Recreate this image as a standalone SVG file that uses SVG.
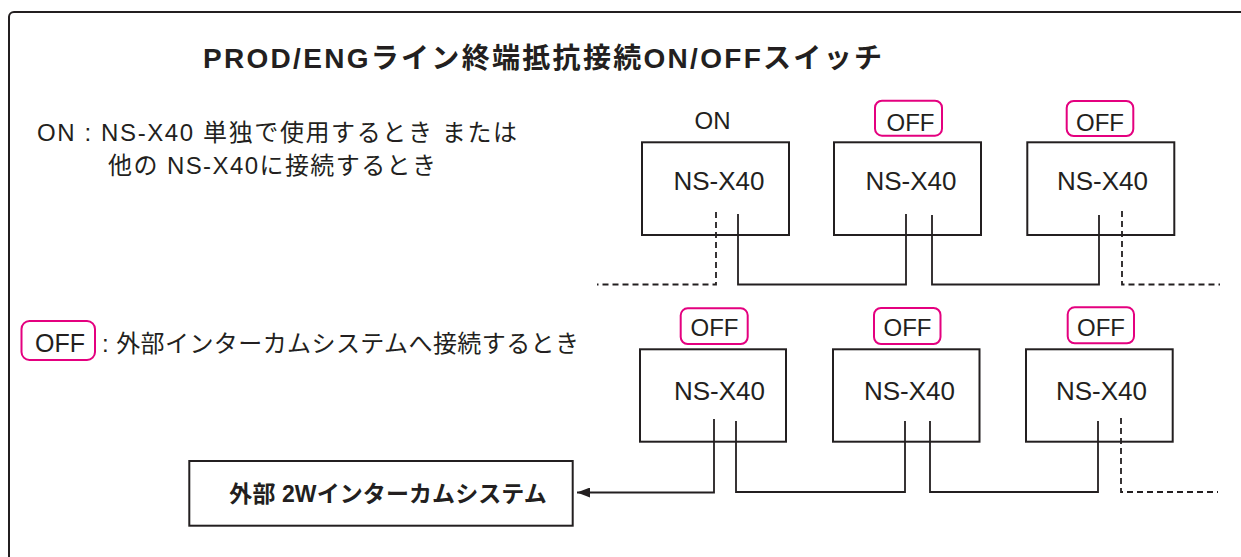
<svg xmlns="http://www.w3.org/2000/svg" width="1241" height="557" viewBox="0 0 1241 557">
  <style>
    text { font-family: "Liberation Sans", "Noto Sans CJK JP", sans-serif; fill: #231f20; }
    .title { font-size: 28px; font-weight: bold; }
    .desc { font-size: 24px; }
    .lbl { font-size: 24px; text-anchor: middle; }
    .dev { font-size: 26px; text-anchor: middle; }
    .ext { font-size: 23px; font-weight: bold; }
    .box { fill: none; stroke: #231f20; stroke-width: 2; }
    .sw { fill: none; stroke: #e4007f; stroke-width: 2; }
    .wire { fill: none; stroke: #231f20; stroke-width: 1.8; }
    .dash { fill: none; stroke: #231f20; stroke-width: 1.8; stroke-dasharray: 6 4; }
  </style>
  <defs>
    <marker id="arrow" viewBox="0 0 13 10" refX="13" refY="5" markerWidth="13" markerHeight="10" markerUnits="userSpaceOnUse" orient="auto">
      <path d="M0,0 L13,5 L0,10 z" fill="#231f20"/>
    </marker>
  </defs>
  <rect x="0" y="0" width="1241" height="557" fill="#ffffff"/>
  <rect id="frame" x="9" y="12" width="1300" height="600" rx="5" fill="none" stroke="#231f20" stroke-width="2"/>

  <g id="title">
    <text class="title" x="203" y="68" textLength="679">PROD/ENGライン終端抵抗接続ON/OFFスイッチ</text>
  </g>

  <g id="legend-on">
    <text class="desc" x="37" y="141" textLength="480">ON : NS-X40 単独で使用するとき または</text>
    <text class="desc" x="108" y="174" textLength="328">他の NS-X40に接続するとき</text>
  </g>

  <g id="legend-off">
    <rect class="sw" x="21.5" y="321" width="73.5" height="39" rx="8"/>
    <text class="lbl" x="60" y="352" style="font-size:25px">OFF</text>
    <text class="desc" x="102" y="352" textLength="477">: 外部インターカムシステムへ接続するとき</text>
  </g>

  <g id="connectors">
    <path class="dash" d="M716,212 V284.5 H597"/>
    <path class="wire" d="M738,214 V284.5 H906 V214"/>
    <path class="wire" d="M932,215 V284.5 H1099 V215"/>
    <path class="dash" d="M1122,211 V284.5 H1220"/>
    <path class="wire" d="M714,419 V492.5 H577" marker-end="url(#arrow)"/>
    <path class="wire" d="M736,421 V492 H905 V421"/>
    <path class="wire" d="M930,421 V492 H1098 V421"/>
    <path class="dash" d="M1121,418 V492 H1218"/>
  </g>

  <g id="r1-unit1">
    <text class="lbl" x="712.5" y="129">ON</text>
    <rect class="box" x="642" y="142.3" width="147" height="92.7"/>
    <text class="dev" x="719" y="190">NS-X40</text>
  </g>
  <g id="r1-unit2">
    <rect class="sw" x="875" y="100.7" width="67" height="35" rx="7"/>
    <text class="lbl" x="910.5" y="130.5">OFF</text>
    <rect class="box" x="834" y="142.3" width="147" height="92.7"/>
    <text class="dev" x="911" y="190">NS-X40</text>
  </g>
  <g id="r1-unit3">
    <rect class="sw" x="1066.7" y="101" width="66.6" height="35" rx="7"/>
    <text class="lbl" x="1100" y="130.5">OFF</text>
    <rect class="box" x="1027.3" y="142.3" width="147" height="92.7"/>
    <text class="dev" x="1102.5" y="190">NS-X40</text>
  </g>

  <g id="r2-unit1">
    <rect class="sw" x="680.7" y="308.3" width="67" height="35.7" rx="7"/>
    <text class="lbl" x="714.5" y="336">OFF</text>
    <rect class="box" x="640" y="349.3" width="146" height="92.4"/>
    <text class="dev" x="719.5" y="400">NS-X40</text>
  </g>
  <g id="r2-unit2">
    <rect class="sw" x="874" y="308" width="66.5" height="36" rx="7"/>
    <text class="lbl" x="907.5" y="336">OFF</text>
    <rect class="box" x="833" y="349.3" width="146.5" height="92.4"/>
    <text class="dev" x="909.5" y="400">NS-X40</text>
  </g>
  <g id="r2-unit3">
    <rect class="sw" x="1067.7" y="307.3" width="66.3" height="36" rx="7"/>
    <text class="lbl" x="1101" y="335.5">OFF</text>
    <rect class="box" x="1026" y="349.3" width="146.7" height="92.4"/>
    <text class="dev" x="1101.5" y="400">NS-X40</text>
  </g>

  <g id="ext-intercom">
    <rect class="box" x="189.3" y="461" width="383.4" height="64.7"/>
    <text class="ext" x="229.3" y="501.5" textLength="317.4">外部 2Wインターカムシステム</text>
  </g>
</svg>
